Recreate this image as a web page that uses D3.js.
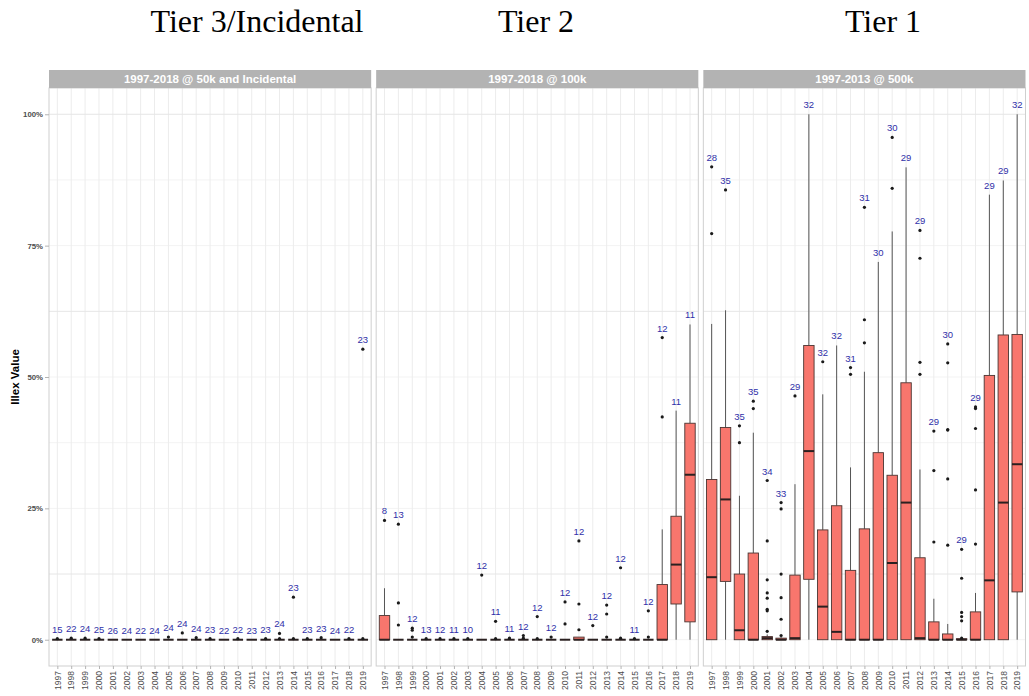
<!DOCTYPE html>
<html><head><meta charset="utf-8">
<script src="https://cdn.jsdelivr.net/npm/d3@7"></script>
<style>body{margin:0;background:#fff}</style>
</head><body>
<svg id="c" width="1029" height="696"></svg>
<script>
// ---------------- DATA ----------------
const years = ["1997","1998","1999","2000","2001","2002","2003","2004","2005","2006","2007","2008",
  "2009","2010","2011","2012","2013","2014","2015","2016","2017","2018","2019"];
const panelTitles = ["Tier 3/Incidental", "Tier 2", "Tier 1"];
const stripLabels = ["1997-2018 @ 50k and Incidental", "1997-2018 @ 100k", "1997-2013 @ 500k"];
const yTicks = [0, 25, 50, 75, 100];
const yTickLabels = ["0%", "25%", "50%", "75%", "100%"];

// box stats per year: [lower whisker, q1, median, q3, upper whisker] (percent)
const tier3Stats = [
  [0,0,0,0,0],[0,0,0,0,0],[0,0,0,0,0],[0,0,0,0,0],[0,0,0,0,0],[0,0,0,0,0],[0,0,0,0,0],[0,0,0,0,0],
  [0,0,0,0,0],[0,0,0,0,0],[0,0,0,0,0],[0,0,0,0,0],[0,0,0,0,0],[0,0,0,0,0],[0,0,0,0,0],[0,0,0,0,0],
  [0,0,0,0,0],[0,0,0,0,0],[0,0,0,0,0],[0,0,0,0,0],[0,0,0,0,0],[0,0,0,0,0],[0,0,0,0,0]];
const tier3Outliers = [[0.2],[0.3],[0.3],[0.2],[],[],[],[],[0.5],[1.3],[0.4],[0.2],[],[0.2],[],[0.2],
  [1.2,0.2],[8.1,0.2],[0.2],[0.4],[],[0.2],[55.3,0.2]];
const tier3Counts = [15,22,24,25,26,24,22,24,24,24,24,23,22,22,23,23,24,23,23,23,24,22,23];

const tier2Stats = [
  [0,0,0,4.6,9.8],[0,0,0,0,0],[0,0,0,0,0],[0,0,0,0,0],[0,0,0,0,0],[0,0,0,0,0],[0,0,0,0,0],[0,0,0,0,0],
  [0,0,0,0,0],[0,0,0,0,0],[0,0,0,0,0],[0,0,0,0,0],[0,0,0,0,0],[0,0,0,0,0],[0,0,0,0.5,0.5],[0,0,0,0,0],
  [0,0,0,0,0],[0,0,0,0,0],[0,0,0,0,0],[0,0,0,0,0],[0,0,0,10.5,21.0],[0,6.8,14.3,23.5,43.6],[0,3.4,31.4,41.2,60.0]];
const tier2Outliers = [[22.7],[22.0,7.0,2.8],[2.2,1.8,0.5],[0.2],[0.2],[0.2],[0.2],[12.3],[3.5,0.2],[0.3],
  [0.8,0.3],[4.4,0.2],[0.5],[7.2,3.0],[18.8,6.8,1.9],[2.7],[6.6,4.9,0.5],[13.7,0.3],[0.2],[5.5,0.5],
  [57.5,42.4],[],[]];
const tier2Counts = [8,13,12,13,12,11,10,12,11,11,12,12,12,12,12,12,12,12,11,12,12,11,11];

const tier1Stats = [
  [0,0,11.9,30.5,60.1],[0,11.1,26.7,40.4,62.7],[0,0,1.8,12.5,27.4],[0,0,0,16.5,39.4],[0,0,0.3,0.6,1.0],
  [0,0,0,0.3,0.5],[0,0,0.3,12.3,29.6],[0,11.5,35.9,56.0,100],[0,0,6.3,20.9,46.7],[0,0,1.5,25.5,56.0],
  [0,0,0,13.2,32.8],[0,0,0,21.1,51.0],[0,0,0,35.6,71.9],[0,0,14.6,31.3,77.7],[0,0,26.1,48.9,89.9],
  [0,0,0.3,15.6,32.4],[0,0,0,3.4,7.8],[0,0,0,1.1,3.0],[0,0,0,0.2,0.4],[0,0,0,5.3,8.9],
  [0,0,11.3,50.3,84.7],[0,0,26.1,58.0,87.4],[0,9.1,33.4,58.1,100]];
const tier1Outliers = [[90.0,77.3],[85.6],[40.7,37.5],[45.4,44.0],[30.3,18.8,11.4,8.9,7.9,5.8,5.5,1.6],
  [26.1,24.9,12.5,8.0,3.9,0.8],[46.4],[],[52.9],[],[51.8,50.5],[82.3,60.9,56.5],[],[95.6,85.9],[],
  [77.9,72.6,52.8,50.5],[39.7,32.2,18.6],[56.3,52.7,40.0,39.9,30.6,18.0],[17.2,11.7,5.2,4.4,3.6,0.3],
  [44.3,44.0,40.2,28.5,18.2],[],[],[]];
const tier1Counts = [28,35,35,35,34,33,29,32,32,32,31,31,30,30,29,29,29,30,29,29,29,29,32];

const panels = [
  {stats: tier3Stats, outliers: tier3Outliers, counts: tier3Counts},
  {stats: tier2Stats, outliers: tier2Outliers, counts: tier2Counts},
  {stats: tier1Stats, outliers: tier1Outliers, counts: tier1Counts}
];

// ---------------- LAYOUT ----------------
const svg = d3.select("#c");
const pLeft = 49, pRight = 1025.5, gap = 5;
const pw = (pRight - pLeft - 2 * gap) / 3;
const pTop = 88, pBottom = 666, stripH = 18;
const titleX = [257, 536, 883];
const y = d3.scaleLinear().domain([-5, 105]).range([pBottom, pTop]);
const gridStrong = [12.5, 62.5, 100];
const gridFaint = [0, 25, 37.5, 50, 75, 87.5];
const sans = "'Liberation Sans', Arial, sans-serif";

panelTitles.forEach((t, i) => {
  svg.append("text").attr("x", titleX[i]).attr("y", 32).attr("text-anchor", "middle")
    .attr("font-family", "'Liberation Serif','Times New Roman',serif").attr("font-size", 32)
    .attr("fill", "#000").text(t);
});

panels.forEach((p, pi) => {
  const x0 = pLeft + pi * (pw + gap);
  const x = d3.scalePoint().domain(years).range([x0, x0 + pw]).padding(0.6);
  const bw = x.step() * 0.75;
  const g = svg.append("g");

  // grid
  g.selectAll(".gf").data(gridFaint).join("line")
    .attr("x1", x0).attr("x2", x0 + pw).attr("y1", d => y(d)).attr("y2", d => y(d))
    .attr("stroke", "#f3f3f3").attr("stroke-width", 1);
  g.selectAll(".vg").data(years).join("line")
    .attr("x1", d => x(d)).attr("x2", d => x(d)).attr("y1", pTop).attr("y2", pBottom)
    .attr("stroke", "#ececec").attr("stroke-width", 1);
  g.selectAll(".gs").data(gridStrong).join("line")
    .attr("x1", x0).attr("x2", x0 + pw).attr("y1", d => y(d)).attr("y2", d => y(d))
    .attr("stroke", "#e6e6e6").attr("stroke-width", 1);

  // boxes
  const data = years.map((yr, i) => ({yr, s: p.stats[i], o: p.outliers[i], n: p.counts[i]}));
  const bg = g.selectAll(".box").data(data).join("g");
  bg.append("line").attr("x1", d => x(d.yr)).attr("x2", d => x(d.yr))
    .attr("y1", d => y(d.s[3])).attr("y2", d => y(d.s[4]))
    .attr("stroke", "#555").attr("stroke-width", 1);
  bg.append("line").attr("x1", d => x(d.yr)).attr("x2", d => x(d.yr))
    .attr("y1", d => y(d.s[1])).attr("y2", d => y(d.s[0]))
    .attr("stroke", "#555").attr("stroke-width", 1);
  bg.append("rect").attr("x", d => x(d.yr) - bw / 2).attr("width", bw)
    .attr("y", d => y(d.s[3])).attr("height", d => y(d.s[1]) - y(d.s[3]))
    .attr("fill", "#F8766D").attr("stroke", "#4a3532").attr("stroke-width", 0.9);
  bg.append("line").attr("x1", d => x(d.yr) - bw / 2).attr("x2", d => x(d.yr) + bw / 2)
    .attr("y1", d => y(d.s[2])).attr("y2", d => y(d.s[2]))
    .attr("stroke", "#2a2020").attr("stroke-width", 2);
  bg.each(function(d) {
    d3.select(this).selectAll("circle").data(d.o).join("circle")
      .attr("cx", x(d.yr)).attr("cy", v => y(v)).attr("r", 1.6).attr("fill", "#1a1a1a");
  });
  bg.append("text").attr("x", d => x(d.yr))
    .attr("y", d => y(d3.max([d.s[4], ...d.o])) - 6)
    .attr("text-anchor", "middle").attr("font-family", sans).attr("font-size", 9.5)
    .attr("fill", "#2f2fa8").text(d => d.n);

  // border
  g.append("rect").attr("x", x0).attr("y", pTop).attr("width", pw).attr("height", pBottom - pTop)
    .attr("fill", "none").attr("stroke", "#cfcfcf").attr("stroke-width", 1);
  // strip
  g.append("rect").attr("x", x0).attr("y", pTop - stripH).attr("width", pw).attr("height", stripH)
    .attr("fill", "#b3b3b3");
  g.append("text").attr("x", x0 + pw / 2).attr("y", pTop - stripH / 2 + 4)
    .attr("text-anchor", "middle").attr("font-family", sans).attr("font-size", 11.5)
    .attr("font-weight", "bold").attr("fill", "#fff").text(stripLabels[pi]);

  // x axis
  const xa = g.append("g").attr("transform", `translate(0,${pBottom})`)
    .call(d3.axisBottom(x).tickSize(3).tickPadding(2));
  xa.select(".domain").remove();
  xa.selectAll(".tick line").attr("stroke", "#b3b3b3");
  xa.selectAll(".tick text").attr("transform", "rotate(-90)").attr("text-anchor", "end")
    .attr("x", -5).attr("y", 0).attr("dy", "0.32em")
    .attr("font-family", sans).attr("font-size", 8.5).attr("fill", "#4d4d4d");

  if (pi === 0) {
    const ya = g.append("g").attr("transform", `translate(${x0},0)`)
      .call(d3.axisLeft(y).tickValues(yTicks).tickFormat((d, i) => yTickLabels[i]).tickSize(4).tickPadding(2));
    ya.select(".domain").remove();
    ya.selectAll(".tick line").attr("stroke", "#b3b3b3");
    ya.selectAll(".tick text").attr("font-family", sans).attr("font-size", 7.8)
      .attr("font-weight", "bold").attr("fill", "#4d4d4d");
  }
});

svg.append("text").attr("transform", `translate(19,${(pTop + pBottom) / 2}) rotate(-90)`)
  .attr("text-anchor", "middle").attr("font-family", sans).attr("font-size", 11.5)
  .attr("font-weight", "bold").attr("fill", "#000").text("Illex Value");
</script>
</body></html>
